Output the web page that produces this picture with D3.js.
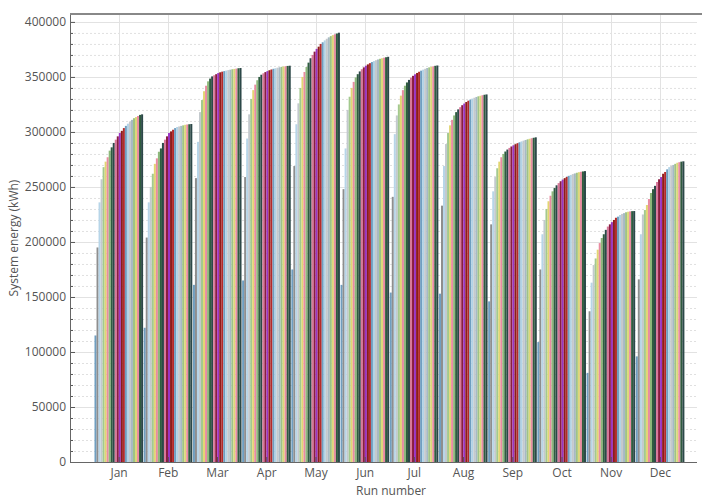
<!DOCTYPE html>
<html><head><meta charset="utf-8">
<script src="https://cdn.jsdelivr.net/npm/d3@7"></script>
<style>
body{margin:0;background:#fff}
text{font-family:"Segoe UI","Open Sans",sans-serif}
</style>
</head><body>
<svg id="c" width="702" height="497"></svg>
<script>
const months = ["Jan","Feb","Mar","Apr","May","Jun","Jul","Aug","Sep","Oct","Nov","Dec"];
const jan = [115000,195000,236000,257000,268000,273000,277000,283000,286000,290000,293000,296000,299000,301000,303500,305500,307500,309500,311000,312500,313500,314500,315500,316000];
const feb = [122000,204000,236000,250000,262000,271000,276000,282000,285000,290000,293000,296000,299000,300500,302000,303500,304500,305000,305500,306000,306500,306800,307000,307200];
const mar = [161000,258000,291000,318000,329000,337000,342000,346000,348500,350500,351500,352500,353500,354200,354800,355300,355800,356200,356600,357000,357300,357600,357900,358100];
const apr = [165000,259000,294000,316000,330000,338000,343000,347000,350000,352000,353300,354400,355300,356100,356800,357400,357900,358400,358800,359200,359500,359800,360000,360200];
const may = [175000,269000,307000,326000,340000,350000,354500,359000,363000,367000,370000,373000,375500,377500,380000,381500,383200,384700,386000,387100,388000,388800,389500,390200];
const jun = [161000,248000,285000,320000,332000,340000,345500,349500,352500,355000,357000,358700,360200,361400,362500,363500,364400,365200,365900,366500,367000,367500,367900,368300];
const jul = [154000,241000,298000,315000,325000,333000,338000,342000,345000,347300,349300,351000,352400,353600,354700,355700,356600,357400,358100,358700,359200,359700,360100,360400];
const aug = [153000,233000,269000,289000,299000,306000,311000,315000,318000,320500,322500,324300,325800,327200,328400,329400,330300,331100,331800,332400,332900,333400,333800,334100];
const sep = [146000,216000,246000,259000,267000,273000,277000,280000,282200,284000,285500,286800,287900,288900,289800,290600,291400,292100,292700,293300,293800,294300,294700,295100];
const oct = [109000,175000,207000,220000,230000,237000,242000,246000,249000,251500,253500,255200,256700,258000,259100,260100,260900,261700,262300,262900,263400,263800,264100,264400];
const nov = [81000,137000,163000,179000,185000,193000,199000,203600,207000,211000,214000,216000,218000,220000,222000,223000,224500,225500,226200,227000,227500,227800,228000,228100];
const dec = [96000,166000,207000,225000,229000,233600,239000,244500,248000,251000,254500,257000,259000,262000,263600,266000,268000,269000,270000,271000,272000,272500,273000,273300];
const seriesByMonth = [jan,feb,mar,apr,may,jun,jul,aug,sep,oct,nov,dec];
const yMajorTicks = [0,50000,100000,150000,200000,250000,300000,350000,400000];
const palette = ["#6f9ec0","#8e8e8e","#b7d5e8","#c3c9cd","#a3c98e","#e2d672","#e98ba1","#8db87a","#2f5c3f","#2c4848",
                 "#d8789a","#8b1c40","#9a33c4","#8b1c1c","#b42a2a",
                 "#6f9ec0","#b2d3e6","#c5c9cc","#a7b9c4","#9ec386","#dcd878","#e98ba1","#2f5c3f","#2c4848"];

const svg = d3.select("#c");
const L = 70, R = 697, T = 14, B = 462;
const y = d3.scaleLinear().domain([0, 407200]).range([B, T]);
const x = d3.scaleBand().domain(months).range([94.5, 685]).padding(0);
const xi = d3.scaleBand().domain(d3.range(24)).range([0, x.bandwidth()-0.6]).padding(0);

const minorTicks = d3.range(0, 400001, 10000).filter(v => v % 50000 !== 0);

// grid
const g = svg.append("g");
g.selectAll(".minor").data(minorTicks).join("line")
  .attr("x1", L).attr("x2", R).attr("y1", d => y(d)+0.5).attr("y2", d => y(d)+0.5)
  .attr("stroke", "#e0e0e0").attr("stroke-dasharray", "2,2");
g.selectAll(".major").data(yMajorTicks.slice(1)).join("line")
  .attr("x1", L).attr("x2", R).attr("y1", d => Math.round(y(d))+0.5).attr("y2", d => Math.round(y(d))+0.5)
  .attr("stroke", "#e2e2e2");
g.selectAll(".vg").data(months).join("line")
  .attr("x1", d => Math.round(x(d)+x.bandwidth()/2)+0.5).attr("x2", d => Math.round(x(d)+x.bandwidth()/2)+0.5)
  .attr("y1", T).attr("y2", B).attr("stroke", "#e2e2e2");

// bars
const groups = svg.append("g").selectAll("g").data(seriesByMonth).join("g")
  .attr("transform", (d,i) => `translate(${x(months[i])},0)`);
groups.selectAll("rect").data(d => d).join("rect")
  .attr("x", (d,j) => xi(j)).attr("width", xi.bandwidth())
  .attr("y", d => y(d)).attr("height", d => B - y(d))
  .attr("fill", (d,j) => palette[j]);

// axes
const ya = svg.append("g").attr("transform", `translate(${L},0)`)
  .call(d3.axisLeft(y).tickValues(yMajorTicks).tickSize(-5).tickPadding(4).tickFormat(d3.format("d")));
const yb = svg.append("g").attr("transform", `translate(${L},0)`)
  .call(d3.axisLeft(y).tickValues(minorTicks).tickSize(-3).tickFormat(""));
const xa = svg.append("g").attr("transform", `translate(0,${B})`)
  .call(d3.axisBottom(x).tickSize(-5).tickPadding(6));
[ya,yb,xa].forEach(a => {
  a.select(".domain").remove();
  a.selectAll("line").attr("stroke", "#555");
  a.selectAll("text").attr("fill", "#555").style("font-size", "12px").style("font-family", '"Segoe UI","Open Sans",sans-serif');
});
svg.append("line").attr("x1", L+0.5).attr("x2", L+0.5).attr("y1", T).attr("y2", B).attr("stroke", "#666");
svg.append("line").attr("x1", L).attr("x2", R).attr("y1", B+0.5).attr("y2", B+0.5).attr("stroke", "#666");
svg.append("line").attr("x1", L).attr("x2", 702).attr("y1", T).attr("y2", T).attr("stroke", "#888").attr("stroke-width", 2);

svg.append("text").attr("transform", "translate(18,238) rotate(-90)").attr("text-anchor", "middle")
  .attr("fill", "#555").style("font-size", "12px").text("System energy (kWh)");
svg.append("text").attr("x", 391).attr("y", 494.5).attr("text-anchor", "middle")
  .attr("fill", "#555").style("font-size", "12px").text("Run number");
</script>
</body></html>
